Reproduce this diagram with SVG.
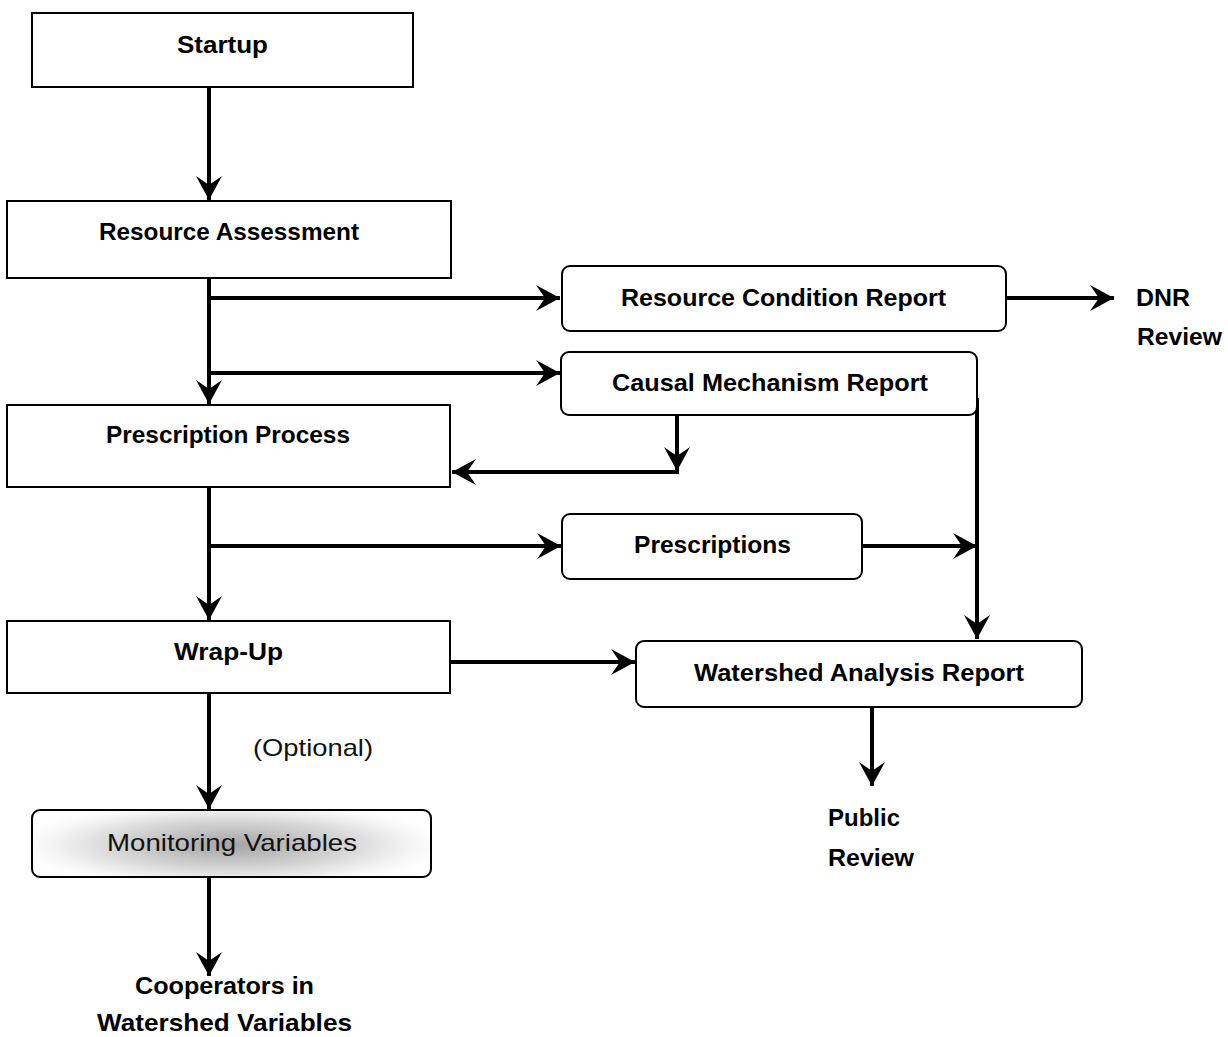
<svg xmlns="http://www.w3.org/2000/svg" width="1228" height="1037" viewBox="0 0 1228 1037">
  <style>
    .box { fill: #ffffff; stroke: #000000; stroke-width: 2; }
    .lbl { font-family: "Liberation Sans", Arial, sans-serif; font-weight: bold; font-size: 24px; fill: #000000; text-anchor: middle; }
    .plain { font-family: "Liberation Sans", Arial, sans-serif; font-weight: normal; font-size: 24px; fill: #111111; }
    .free { font-family: "Liberation Sans", Arial, sans-serif; font-weight: bold; font-size: 24px; fill: #000000; }
    .wire { fill: none; stroke: #000000; stroke-width: 4; }
    .arrow { fill: none; stroke: #000000; stroke-width: 4; marker-end: url(#head); }
  </style>
  <defs>
    <marker id="head" markerUnits="userSpaceOnUse" viewBox="-26 -14 28 28" markerWidth="28" markerHeight="28" refX="0" refY="0" orient="auto">
      <path d="M -24,-13 L 0,0 L -24,13 L -15,0 Z" fill="#000000"/>
    </marker>
    <radialGradient id="haze" cx="0.5" cy="0.5" r="0.5">
      <stop offset="0" stop-color="#a4a4a4"/>
      <stop offset="0.5" stop-color="#d2d2d2"/>
      <stop offset="0.85" stop-color="#f6f6f6"/>
      <stop offset="1" stop-color="#ffffff"/>
    </radialGradient>
    <clipPath id="monitor-clip">
      <rect x="32" y="810" width="399" height="67" rx="8"/>
    </clipPath>
  </defs>

  <rect width="1228" height="1037" fill="#ffffff"/>

  <!-- connectors -->
  <g id="connectors">
    <line class="arrow" x1="209" y1="87" x2="209" y2="200"/>
    <line class="arrow" x1="209" y1="278" x2="209" y2="404"/>
    <line class="arrow" x1="209" y1="298" x2="560" y2="298"/>
    <line class="arrow" x1="209" y1="373" x2="560" y2="373"/>
    <line class="arrow" x1="987" y1="298" x2="1114" y2="298"/>
    <line class="arrow" x1="677" y1="415" x2="677" y2="471"/>
    <polyline class="arrow" points="679,472 452,472"/>
    <line class="wire" x1="977" y1="398" x2="977" y2="600"/>
    <line class="arrow" x1="977" y1="598" x2="977" y2="639"/>
    <line class="arrow" x1="209" y1="487" x2="209" y2="620"/>
    <line class="arrow" x1="209" y1="546" x2="561" y2="546"/>
    <line class="arrow" x1="862" y1="546" x2="977" y2="546"/>
    <line class="arrow" x1="450" y1="662" x2="635" y2="662"/>
    <line class="arrow" x1="872" y1="695" x2="872" y2="786"/>
    <line class="arrow" x1="209" y1="693" x2="209" y2="809"/>
    <line class="arrow" x1="209" y1="864" x2="209" y2="976"/>
  </g>

  <g id="startup">
    <rect class="box" x="32" y="13" width="381" height="74"/>
    <text class="lbl" x="222.5" y="53" textLength="91" lengthAdjust="spacingAndGlyphs">Startup</text>
  </g>

  <g id="resource-assessment">
    <rect class="box" x="7" y="201" width="444" height="77"/>
    <text class="lbl" x="229" y="240" textLength="260" lengthAdjust="spacingAndGlyphs">Resource Assessment</text>
  </g>

  <g id="resource-condition-report">
    <rect class="box" x="562" y="266" width="444" height="65" rx="8"/>
    <text class="lbl" x="783.5" y="306" textLength="325" lengthAdjust="spacingAndGlyphs">Resource Condition Report</text>
  </g>

  <g id="dnr-review">
    <text class="free" x="1136" y="306" textLength="54" lengthAdjust="spacingAndGlyphs">DNR</text>
    <text class="free" x="1137" y="345" textLength="85" lengthAdjust="spacingAndGlyphs">Review</text>
  </g>

  <g id="causal-mechanism-report">
    <rect class="box" x="561" y="352" width="416" height="63" rx="8"/>
    <text class="lbl" x="770" y="391" textLength="316" lengthAdjust="spacingAndGlyphs">Causal Mechanism Report</text>
  </g>

  <g id="prescription-process">
    <rect class="box" x="7" y="405" width="443" height="82"/>
    <text class="lbl" x="228" y="443" textLength="244" lengthAdjust="spacingAndGlyphs">Prescription Process</text>
  </g>

  <g id="prescriptions">
    <rect class="box" x="562" y="514" width="300" height="65" rx="8"/>
    <text class="lbl" x="712.5" y="553" textLength="157" lengthAdjust="spacingAndGlyphs">Prescriptions</text>
  </g>

  <g id="wrap-up">
    <rect class="box" x="7" y="621" width="443" height="72"/>
    <text class="lbl" x="228.5" y="660" textLength="109" lengthAdjust="spacingAndGlyphs">Wrap-Up</text>
  </g>

  <g id="watershed-analysis-report">
    <rect class="box" x="636" y="641" width="446" height="66" rx="8"/>
    <text class="lbl" x="859" y="681" textLength="330" lengthAdjust="spacingAndGlyphs">Watershed Analysis Report</text>
  </g>

  <g id="public-review">
    <text class="free" x="828" y="826" textLength="72" lengthAdjust="spacingAndGlyphs">Public</text>
    <text class="free" x="828" y="866" textLength="86" lengthAdjust="spacingAndGlyphs">Review</text>
  </g>

  <g id="optional-label">
    <text class="plain" x="253" y="756" textLength="120" lengthAdjust="spacingAndGlyphs">(Optional)</text>
  </g>

  <g id="monitoring-variables">
    <rect x="32" y="810" width="399" height="67" rx="8" fill="#ffffff"/>
    <ellipse cx="231" cy="845" rx="215" ry="44" fill="url(#haze)" clip-path="url(#monitor-clip)"/>
    <rect x="32" y="810" width="399" height="67" rx="8" fill="none" stroke="#000000" stroke-width="2"/>
    <text class="plain" x="232" y="851" text-anchor="middle" textLength="250" lengthAdjust="spacingAndGlyphs">Monitoring Variables</text>
  </g>

  <g id="cooperators">
    <text class="lbl" x="224.5" y="994" textLength="179" lengthAdjust="spacingAndGlyphs">Cooperators in</text>
    <text class="lbl" x="224.5" y="1031" textLength="255" lengthAdjust="spacingAndGlyphs">Watershed Variables</text>
  </g>
</svg>
